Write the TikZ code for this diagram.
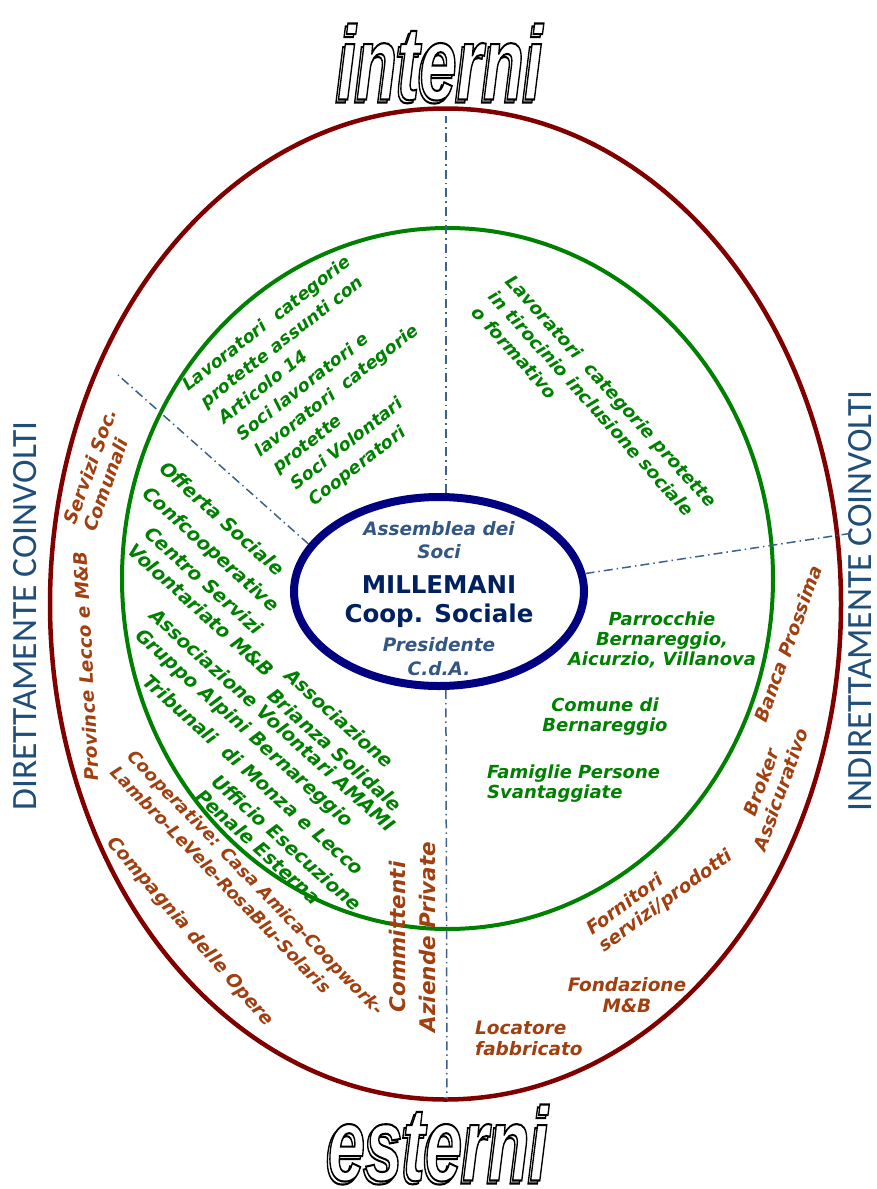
\documentclass[tikz,border=0pt]{standalone}
\usepackage{fontspec}
\setmainfont{DejaVu Sans}
\newfontfamily\wordfont{Liberation Sans}
\newfontfamily\sidefont{Carlito}
\usetikzlibrary{shapes.geometric}

\definecolor{ringred}{RGB}{128,0,0}
\definecolor{ringgreen}{RGB}{0,128,0}
\definecolor{corenavy}{RGB}{0,0,128}
\definecolor{textbrown}{RGB}{160,64,16}
\definecolor{textsteel}{RGB}{52,86,130}
\definecolor{textnavy}{RGB}{0,32,96}
\definecolor{sideblue}{RGB}{31,78,121}
\definecolor{dashblue}{RGB}{62,96,140}

% letters drawn as outlines only
\newcommand{\outlined}[1]{\special{pdf:literal direct 1 Tr 1.2 w}#1\special{pdf:literal direct 0 Tr}}
% white letters with a black rim
\newcommand{\hollow}[1]{\textcolor{white}{\special{pdf:literal direct 2 Tr 1.2 w 0 G}#1\special{pdf:literal direct 0 Tr}}}

\tikzset{
  greenlabel/.style={text=ringgreen, inner sep=0pt, font=\fontsize{18}{20}\selectfont\bfseries\itshape},
  brownlabel/.style={text=textbrown, inner sep=0pt, font=\fontsize{18.5}{21}\selectfont\bfseries\itshape},
  steellabel/.style={text=textsteel, inner sep=0pt, align=center, font=\fontsize{18.5}{23.5}\selectfont\bfseries\itshape},
  sidelabel/.style={text=sideblue, inner sep=0pt, rotate=90, font=\sidefont\fontsize{35.5}{35.5}\selectfont},
  wordart/.style={inner sep=0pt, xscale=1.12, yscale=1.75, transform shape, font=\wordfont\fontsize{60}{60}\selectfont\bfseries\itshape},
  core/.style={draw=corenavy, line width=8pt, ellipse, minimum width=290pt, minimum height=189pt, inner sep=0pt},
  divider/.style={draw=dashblue, line width=1.5pt, dash pattern=on 9pt off 4pt on 1.5pt off 4pt}
}

\begin{document}
\begin{tikzpicture}[x=1pt, y=1pt]
\useasboundingbox (0,0) rectangle (877,-1189);

% Titles
\node[wordart] (intshadow) at (437.5,-65) {\outlined{interni}};
\node[wordart] (internal) at (440,-62) {\hollow{interni}};
\node[wordart] (extshadow) at (435.5,-1146) {\outlined{esterni}};
\node[wordart] (external) at (438,-1143) {\hollow{esterni}};
\node[sidelabel] (direct) at (25,-616) {DIRETTAMENTE COINVOLTI};
\node[sidelabel] (indirect) at (860,-601) {INDIRETTAMENTE COINVOLTI};

% Rings
\draw[ringred, line width=4.5pt] (445.5,-604) ellipse [x radius=395.5, y radius=495.5];
\draw[ringgreen, line width=4pt] (447.5,-578.5) ellipse [x radius=325.5, y radius=350.5];

% Centre
\node[core] (core) at (439,-591.5) {};
\node[steellabel] (assembly) at (439,-540) {Assemblea dei\\Soci};
\node[text=textnavy, inner sep=0pt, align=center, font=\fontsize{24.5}{29}\selectfont\bfseries] (coop) at (439,-602) {MILLEMANI\\Coop. Sociale};
\node[steellabel] (chair) at (439,-656.5) {Presidente\\C.d.A.};

% Sector lines
\coordinate (topend) at (446,-116);
\coordinate (botend) at (447,-1099);
\coordinate (leftend) at (118,-375);
\coordinate (rightend) at (853,-533);
\draw[divider] (core.north -| topend) -- (topend);
\draw[divider] (core.-86) -- (botend);
\draw[divider] (core.160) -- (leftend);
\draw[divider] (core.7) -- (rightend);

% Inner ring, upper sectors
\foreach \entry [count=\i from 0] in {Lavoratori\ \ categorie, protette assunti con, Articolo 14, Soci lavoratori e, lavoratori\ \ categorie, protette, Soci Volontari, Cooperatori}
  \node[greenlabel, font=\fontsize{17.5}{24}\selectfont\bfseries\itshape, rotate=38, anchor=base west] (staff\i) at ({188+18.1*\i},{-392-16.4*\i}) {\entry};
\node[greenlabel, rotate=-48, anchor=north west, align=left, font=\fontsize{18}{23}\selectfont\bfseries\itshape] (trainees) at (515,-273) {Lavoratori\ \ categorie protette\\in tirocinio inclusione sociale\\o formativo};

% Inner ring, left sector
\foreach \entry/\px/\py [count=\i] in {Offerta Sociale/158/470, Confcooperative/141/495, Centro Servizi/143/535, Volontariato M\&B/126/552, Associazione/283/677, Brianza Solidale/266/697, Associazione Volontari AMAMI/148/617, Gruppo Alpini Bernareggio/134/637, Tribunali\ \ di Monza e Lecco/141/683, Ufficio Esecuzione/210/783, Penale Esterna/194/798}
  \node[greenlabel, font=\fontsize{19}{19}\selectfont\bfseries\itshape, rotate=-42, anchor=base west] (partner\i) at (\px,-\py) {\entry};

% Inner ring, right sector
\node[greenlabel, align=center] (parish) at (662,-640) {Parrocchie\\Bernareggio,\\Aicurzio, Villanova};
\node[greenlabel, align=center] (town) at (605,-717) {Comune di\\Bernareggio};
\node[greenlabel, align=left, anchor=west] (families) at (487,-784) {Famiglie Persone\\Svantaggiate};

% Outer ring
\node[brownlabel, rotate=70, align=left] (services) at (100,-470) {Servizi Soc.\\Comunali};
\node[brownlabel, rotate=93] (province) at (86,-666) {Province Lecco e M\&B};
\node[brownlabel, rotate=-46, anchor=north west, align=left, font=\fontsize{17.5}{23}\selectfont\bfseries\itshape] (coops) at (136,-748) {Cooperative: Casa Amica-Coopwork-\\Lambro-LeVele-RosaBlu-Solaris};
\node[brownlabel, rotate=-49] (cdo) at (190,-932) {Compagnia delle Opere};
\node[brownlabel, rotate=90, align=center, font=\fontsize{21.5}{30}\selectfont\bfseries\itshape] (clients) at (412,-937) {Committenti\\Aziende Private};
\node[brownlabel, rotate=70] (bank) at (788,-644) {Banca Prossima};
\node[brownlabel, rotate=70, align=center] (broker) at (771,-786) {Broker\\Assicurativo};
\node[brownlabel, rotate=36, align=left] (suppliers) at (660,-893) {Fornitori\\servizi/prodotti};
\node[brownlabel, align=center] (foundation) at (627,-995.5) {Fondazione\\M\&B};
\node[brownlabel, align=left, anchor=west] (landlord) at (475,-1038) {Locatore\\fabbricato};
\end{tikzpicture}
\end{document}
